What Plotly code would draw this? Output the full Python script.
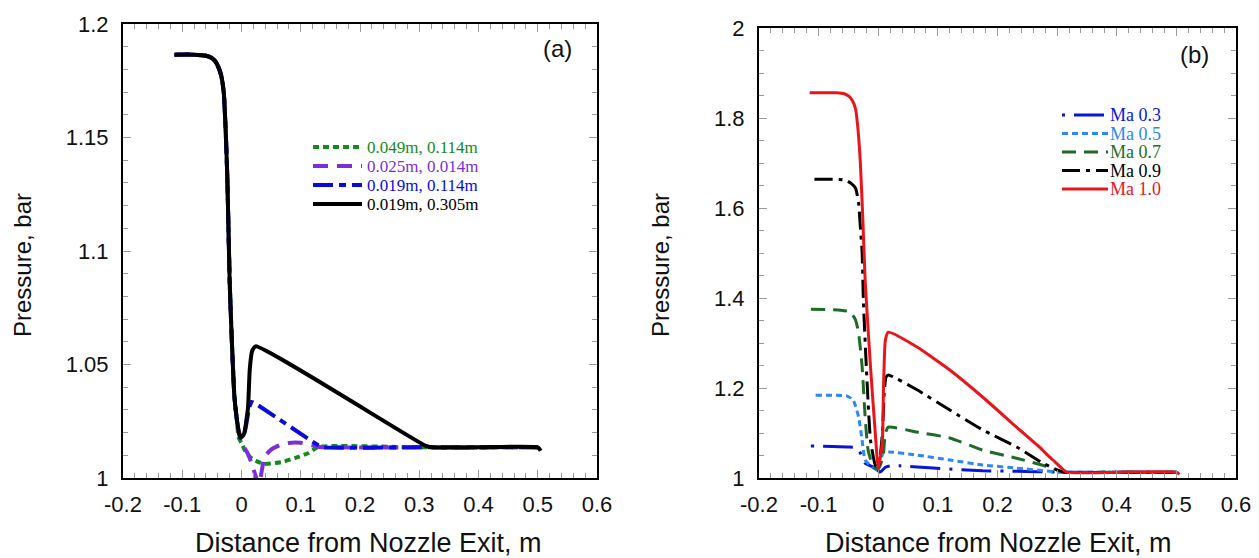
import plotly.graph_objects as go

# ---------------- Panel (a) data ----------------
a_up_x = [-0.113, -0.08, -0.06, -0.05, -0.044, -0.039, -0.034, -0.030, -0.027, -0.024, -0.020, -0.017, -0.012, -0.008, -0.005]
a_up_p = [1.1865, 1.1865, 1.186, 1.185, 1.1835, 1.181, 1.177, 1.170, 1.155, 1.133, 1.087, 1.065, 1.036, 1.026, 1.021]

a_green_x = a_up_x[:-1] + [-0.005, 0.0, 0.008, 0.018, 0.029, 0.039, 0.068, 0.09, 0.113, 0.13, 0.3, 0.5]
a_green_p = a_up_p[:-1] + [1.018, 1.0154, 1.011, 1.0085, 1.007, 1.0062, 1.007, 1.0088, 1.011, 1.0137, 1.0135, 1.0135]

a_purple_x = a_up_x + [0.0, 0.006, 0.012, 0.02, 0.025, 0.028, 0.032, 0.039, 0.05, 0.065, 0.079, 0.1, 0.118, 0.132, 0.3, 0.5]
a_purple_p = a_up_p + [1.017, 1.013, 1.010, 1.004, 1.0, 0.997, 1.0, 1.0093, 1.0125, 1.0145, 1.0154, 1.0155, 1.0145, 1.0137, 1.0135, 1.0135]

a_blue_x = a_up_x + [-0.002, 0.004, 0.009, 0.013, 0.017, 0.022, 0.132, 0.14, 0.3, 0.5]
a_blue_p = a_up_p + [1.0176, 1.019, 1.025, 1.031, 1.0335, 1.033, 1.0141, 1.0135, 1.0135, 1.0135]

a_black_x = a_up_x + [-0.002, 0.002, 0.005, 0.008, 0.011, 0.014, 0.018, 0.024, 0.31, 0.322, 0.40, 0.50, 0.505]
a_black_p = a_up_p + [1.018, 1.0185, 1.020, 1.025, 1.031, 1.048, 1.056, 1.058, 1.0143, 1.0135, 1.0135, 1.0135, 1.012]

a_names = ["0.049m, 0.114m", "0.025m, 0.014m", "0.019m, 0.114m", "0.019m, 0.305m"]

# ---------------- Panel (b) data ----------------
b_ma03_x = [-0.113, -0.052, -0.035, -0.027, -0.022, -0.013, -0.005, 0.003, 0.012, 0.02, 0.037, 0.092, 0.175, 0.232, 0.3, 0.4, 0.5]
b_ma03_p = [1.071, 1.069, 1.067, 1.047, 1.033, 1.027, 1.022, 1.013, 1.024, 1.027, 1.027, 1.022, 1.016, 1.015, 1.013, 1.013, 1.013]

b_ma05_x = [-0.105, -0.052, -0.042, -0.033, -0.027, -0.022, -0.01, 0.0, 0.008, 0.017, 0.065, 0.12, 0.175, 0.232, 0.287, 0.3, 0.4, 0.5]
b_ma05_p = [1.184, 1.182, 1.173, 1.136, 1.084, 1.04, 1.024, 1.018, 1.056, 1.058, 1.051, 1.04, 1.029, 1.022, 1.015, 1.013, 1.013, 1.013]

b_ma07_x = [-0.113, -0.063, -0.047, -0.038, -0.033, -0.027, -0.022, -0.017, -0.008, 0.0, 0.008, 0.012, 0.017, 0.065, 0.12, 0.175, 0.232, 0.287, 0.31, 0.4, 0.5]
b_ma07_p = [1.375, 1.373, 1.369, 1.351, 1.322, 1.247, 1.136, 1.062, 1.024, 1.02, 1.047, 1.1, 1.113, 1.102, 1.089, 1.062, 1.044, 1.024, 1.013, 1.013, 1.013]

b_ma09_x = [-0.107, -0.06, -0.052, -0.045, -0.038, -0.033, -0.030, -0.027, -0.025, -0.02, -0.013, -0.005, 0.0, 0.007, 0.01, 0.013, 0.017, 0.065, 0.12, 0.175, 0.232, 0.276, 0.3, 0.312, 0.4, 0.5]
b_ma09_p = [1.664, 1.663, 1.66, 1.654, 1.644, 1.611, 1.558, 1.5, 1.396, 1.247, 1.084, 1.029, 1.022, 1.1, 1.189, 1.224, 1.229, 1.196, 1.151, 1.107, 1.069, 1.033, 1.018, 1.013, 1.013, 1.013]

b_ma10_x = [-0.115, -0.07, -0.057, -0.049, -0.043, -0.038, -0.034, -0.030, -0.026, -0.022, -0.013, -0.005, 0.0, 0.004, 0.007, 0.009, 0.012, 0.017, 0.065, 0.12, 0.175, 0.232, 0.27, 0.287, 0.293, 0.305, 0.316, 0.4, 0.5, 0.505]
b_ma10_p = [1.856, 1.856, 1.854, 1.848, 1.838, 1.82, 1.775, 1.70, 1.58, 1.44, 1.247, 1.1, 1.022, 1.05, 1.084, 1.211, 1.307, 1.324, 1.291, 1.240, 1.18, 1.113, 1.069, 1.047, 1.04, 1.025, 1.013, 1.013, 1.013, 1.008]

b_names = ["Ma 0.3", "Ma 0.5", "Ma 0.7", "Ma 0.9", "Ma 1.0"]

# ---------------- Tick labels ----------------
x_tickvals = [-0.2, -0.1, 0.0, 0.1, 0.2, 0.3, 0.4, 0.5, 0.6]
x_ticktext = ["-0.2", "-0.1", "0", "0.1", "0.2", "0.3", "0.4", "0.5", "0.6"]
ya_tickvals = [1.0, 1.05, 1.1, 1.15, 1.2]
ya_ticktext = ["1", "1.05", "1.1", "1.15", "1.2"]
yb_tickvals = [1.0, 1.2, 1.4, 1.6, 1.8, 2.0]
yb_ticktext = ["1", "1.2", "1.4", "1.6", "1.8", "2"]

W, H = 1259, 558

def px_x(p):
    return p / W

def px_y(p):
    return 1 - p / H

fig = go.Figure()

a_series = [
    (a_green_x, a_green_p, "#18891c", "6px,4px"),
    (a_purple_x, a_purple_p, "#7b2fd8", "15px,9px"),
    (a_blue_x, a_blue_p, "#0a0ae0", "20px,6px,7px,6px"),
    (a_black_x, a_black_p, "#000000", "solid"),
]
for (xs, ps, col, dash), name in zip(a_series, a_names):
    fig.add_trace(go.Scatter(
        x=xs, y=ps, mode="lines", xaxis="x", yaxis="y", showlegend=False,
        line=dict(color=col, width=4, dash=dash, shape="spline", smoothing=0.5),
        name=name,
    ))

b_series = [
    (b_ma03_x, b_ma03_p, "#0a14d8", "3px,9px,30px,9px"),
    (b_ma05_x, b_ma05_p, "#2f86f5", "6px,4px"),
    (b_ma07_x, b_ma07_p, "#1e6b28", "14px,8px"),
    (b_ma09_x, b_ma09_p, "#000000", "18px,6px,4px,6px"),
    (b_ma10_x, b_ma10_p, "#e8161b", "solid"),
]
for (xs, ps, col, dash), name in zip(b_series, b_names):
    fig.add_trace(go.Scatter(
        x=xs, y=ps, mode="lines", xaxis="x2", yaxis="y2", showlegend=False,
        line=dict(color=col, width=3, dash=dash, shape="spline", smoothing=0.5),
        name=name,
    ))

tickfont = dict(family="Liberation Sans, Arial", size=22, color="#111111")

def axis_common():
    return dict(
        showline=True, linecolor="black", linewidth=2, mirror="ticks",
        ticks="inside", ticklen=8, tickwidth=1, tickcolor="#9a9a9a",
        showgrid=False, zeroline=False, tickfont=tickfont, automargin=False,
    )

fig.update_layout(
    width=W, height=H,
    margin=dict(l=0, r=0, t=0, b=0),
    paper_bgcolor="white", plot_bgcolor="white",
    showlegend=False,
    xaxis=dict(domain=[px_x(123), px_x(597)], range=[-0.2, 0.6], anchor="y",
               tickvals=x_tickvals, ticktext=x_ticktext, ticklabelstandoff=6,
               minor=dict(dtick=0.02, ticks="inside", ticklen=5, tickcolor="#9a9a9a", showgrid=False),
               **axis_common()),
    yaxis=dict(domain=[px_y(478), px_y(24)], range=[1.0, 1.2], anchor="x",
               tickvals=ya_tickvals, ticktext=ya_ticktext, ticklabelstandoff=8,
               minor=dict(dtick=0.01, ticks="inside", ticklen=5, tickcolor="#9a9a9a", showgrid=False),
               **axis_common()),
    xaxis2=dict(domain=[px_x(759), px_x(1236)], range=[-0.2, 0.6], anchor="y2",
                tickvals=x_tickvals, ticktext=x_ticktext, ticklabelstandoff=6,
                minor=dict(dtick=0.02, ticks="inside", ticklen=5, tickcolor="#9a9a9a", showgrid=False),
                **axis_common()),
    yaxis2=dict(domain=[px_y(478), px_y(28)], range=[1.0, 2.0], anchor="x2",
                tickvals=yb_tickvals, ticktext=yb_ticktext, ticklabelstandoff=8,
                minor=dict(dtick=0.05, ticks="inside", ticklen=5, tickcolor="#9a9a9a", showgrid=False),
                **axis_common()),
)

# ---------------- Legends (line samples + coloured serif labels) ----------------
legend_font = "Liberation Serif, Times New Roman"
a_rows = [147, 166, 185, 204]
for (xs, ps, col, dash), name, ry in zip(a_series, a_names, a_rows):
    fig.add_shape(type="line", xref="paper", yref="paper",
                  x0=px_x(313), x1=px_x(362), y0=px_y(ry), y1=px_y(ry),
                  line=dict(color=col, width=4, dash=dash))
    fig.add_annotation(text=name, x=px_x(365), y=px_y(ry), xref="paper", yref="paper",
                       showarrow=False, xanchor="left", yanchor="middle",
                       font=dict(family=legend_font, size=17, color=col))
b_rows = [115, 133.5, 152, 170.5, 189]
for (xs, ps, col, dash), name, ry in zip(b_series, b_names, b_rows):
    fig.add_shape(type="line", xref="paper", yref="paper",
                  x0=px_x(1062), x1=px_x(1108), y0=px_y(ry), y1=px_y(ry),
                  line=dict(color=col, width=3, dash=dash))
    fig.add_annotation(text=name, x=px_x(1108), y=px_y(ry), xref="paper", yref="paper",
                       showarrow=False, xanchor="left", yanchor="middle",
                       font=dict(family=legend_font, size=18, color=col))

ytitle_font = dict(family="Liberation Sans, Arial", size=24, color="#111111")
xtitle_font = dict(family="Liberation Sans, Arial", size=27, color="#111111")
fig.add_annotation(text="Pressure, bar", x=px_x(22), y=px_y(265), xref="paper", yref="paper",
                   textangle=-90, showarrow=False, font=ytitle_font, xanchor="center", yanchor="middle")
fig.add_annotation(text="Pressure, bar", x=px_x(660), y=px_y(265), xref="paper", yref="paper",
                   textangle=-90, showarrow=False, font=ytitle_font, xanchor="center", yanchor="middle")
fig.add_annotation(text="Distance from Nozzle Exit, m", x=px_x(368), y=px_y(543), xref="paper", yref="paper",
                   showarrow=False, font=xtitle_font, xanchor="center", yanchor="middle")
fig.add_annotation(text="Distance from Nozzle Exit, m", x=px_x(999), y=px_y(543), xref="paper", yref="paper",
                   showarrow=False, font=xtitle_font, xanchor="center", yanchor="middle")
fig.add_annotation(text="(a)", x=px_x(557), y=px_y(48), xref="paper", yref="paper",
                   showarrow=False, font=dict(family="Liberation Sans, Arial", size=24, color="#111111"),
                   xanchor="center", yanchor="middle")
fig.add_annotation(text="(b)", x=px_x(1194), y=px_y(55), xref="paper", yref="paper",
                   showarrow=False, font=dict(family="Liberation Sans, Arial", size=24, color="#111111"),
                   xanchor="center", yanchor="middle")

# Remove the browser's default 8px body margin so the figure sits at the page origin.
fig.write_html("out.html", config={"displayModeBar": False},
               post_script="document.body.style.margin='0';document.body.style.overflow='hidden';")
